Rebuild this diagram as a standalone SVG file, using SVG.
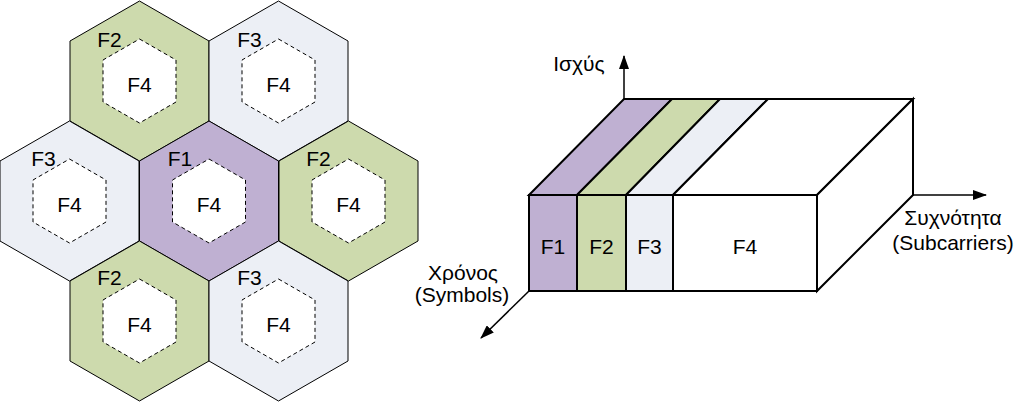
<svg xmlns="http://www.w3.org/2000/svg" width="1014" height="402" viewBox="0 0 1014 402">
  <style>
    .hex { stroke: #000; stroke-width: 1; }
    .inner { fill: #fff; stroke: #000; stroke-width: 1; stroke-dasharray: 4 3; }
    .g { fill: #cddaad; }
    .p { fill: #bfb0d2; }
    .l { fill: #eceff5; }
    .w { fill: #fff; }
    .t { font-family: "Liberation Sans", Arial, sans-serif; font-size: 21px; fill: #000; }
    .m { text-anchor: middle; }
    .box { stroke: #000; stroke-width: 2; stroke-linejoin: miter; }
    .axis { stroke: #000; stroke-width: 1.5; fill: none; }
  </style>
  <defs>
    <marker id="arr" markerWidth="14" markerHeight="10" refX="13" refY="5" orient="auto" markerUnits="userSpaceOnUse">
      <path d="M0,0 L14,5 L0,10 Z" fill="#000"/>
    </marker>
  </defs>
  <rect width="1014" height="402" fill="#fff"/>

  <!-- Hexagonal cells -->
  <g id="cell-f2-top" transform="translate(139.5,81)">
    <polygon class="hex g" points="0,-80 69.5,-40 69.5,40 0,80 -69.5,40 -69.5,-40"/>
    <polygon class="inner" points="0,-42 36.5,-21 36.5,21 0,42 -36.5,21 -36.5,-21"/>
    <text class="t m" x="-30" y="-34">F2</text>
    <text class="t m" x="0" y="11">F4</text>
  </g>
  <g id="cell-f3-top" transform="translate(278.5,81)">
    <polygon class="hex l" points="0,-80 69.5,-40 69.5,40 0,80 -69.5,40 -69.5,-40"/>
    <polygon class="inner" points="0,-42 36.5,-21 36.5,21 0,42 -36.5,21 -36.5,-21"/>
    <text class="t m" x="-29" y="-34">F3</text>
    <text class="t m" x="0" y="11">F4</text>
  </g>
  <g id="cell-f3-left" transform="translate(69.5,201)">
    <polygon class="hex l" points="0,-80 69.5,-40 69.5,40 0,80 -69.5,40 -69.5,-40"/>
    <polygon class="inner" points="0,-42 36.5,-21 36.5,21 0,42 -36.5,21 -36.5,-21"/>
    <text class="t m" x="-26" y="-35">F3</text>
    <text class="t m" x="0" y="11">F4</text>
  </g>
  <g id="cell-f1-center" transform="translate(209,201)">
    <polygon class="hex p" points="0,-80 69.5,-40 69.5,40 0,80 -69.5,40 -69.5,-40"/>
    <polygon class="inner" points="0,-42 36.5,-21 36.5,21 0,42 -36.5,21 -36.5,-21"/>
    <text class="t m" x="-29" y="-35">F1</text>
    <text class="t m" x="0" y="11">F4</text>
  </g>
  <g id="cell-f2-right" transform="translate(348.5,201)">
    <polygon class="hex g" points="0,-80 69.5,-40 69.5,40 0,80 -69.5,40 -69.5,-40"/>
    <polygon class="inner" points="0,-42 36.5,-21 36.5,21 0,42 -36.5,21 -36.5,-21"/>
    <text class="t m" x="-30" y="-35">F2</text>
    <text class="t m" x="0" y="11">F4</text>
  </g>
  <g id="cell-f2-bottom" transform="translate(139.5,321)">
    <polygon class="hex g" points="0,-80 69.5,-40 69.5,40 0,80 -69.5,40 -69.5,-40"/>
    <polygon class="inner" points="0,-42 36.5,-21 36.5,21 0,42 -36.5,21 -36.5,-21"/>
    <text class="t m" x="-30" y="-36">F2</text>
    <text class="t m" x="0" y="11">F4</text>
  </g>
  <g id="cell-f3-bottom" transform="translate(278.5,321)">
    <polygon class="hex l" points="0,-80 69.5,-40 69.5,40 0,80 -69.5,40 -69.5,-40"/>
    <polygon class="inner" points="0,-42 36.5,-21 36.5,21 0,42 -36.5,21 -36.5,-21"/>
    <text class="t m" x="-29" y="-36">F3</text>
    <text class="t m" x="0" y="11">F4</text>
  </g>

  <!-- Axes -->
  <g id="connectors">
    <line class="axis" x1="624" y1="99" x2="624" y2="56" marker-end="url(#arr)"/>
    <line class="axis" x1="913" y1="195" x2="986" y2="195" marker-end="url(#arr)"/>
    <line class="axis" x1="529" y1="291" x2="481" y2="338" marker-end="url(#arr)"/>
  </g>

  <!-- 3D resource box -->
  <g id="box">
    <polygon class="box p" points="529,195 624,99 672,99 577,195"/>
    <polygon class="box g" points="577,195 672,99 720,99 626,195"/>
    <polygon class="box l" points="626,195 720,99 768,99 673,195"/>
    <polygon class="box w" points="673,195 768,99 913,99 817,195"/>
    <polygon class="box w" points="817,195 913,99 913,195 817,291"/>
  </g>
  <g id="band-f1">
    <rect class="box p" x="529" y="195" width="48" height="96"/>
    <text class="t m" x="553" y="254">F1</text>
  </g>
  <g id="band-f2">
    <rect class="box g" x="577" y="195" width="49" height="96"/>
    <text class="t m" x="601.5" y="254">F2</text>
  </g>
  <g id="band-f3">
    <rect class="box l" x="626" y="195" width="47" height="96"/>
    <text class="t m" x="649.5" y="254">F3</text>
  </g>
  <g id="band-f4">
    <rect class="box w" x="673" y="195" width="144" height="96"/>
    <text class="t m" x="745" y="254">F4</text>
  </g>

  <!-- Axis labels -->
  <g id="label-power">
    <text class="t m" x="579" y="71">Ισχύς</text>
  </g>
  <g id="label-frequency">
    <text class="t m" x="953" y="225">Συχνότητα</text>
    <text class="t m" x="953" y="250">(Subcarriers)</text>
  </g>
  <g id="label-time">
    <text class="t m" x="463" y="280">Χρόνος</text>
    <text class="t m" x="462" y="302">(Symbols)</text>
  </g>
</svg>
